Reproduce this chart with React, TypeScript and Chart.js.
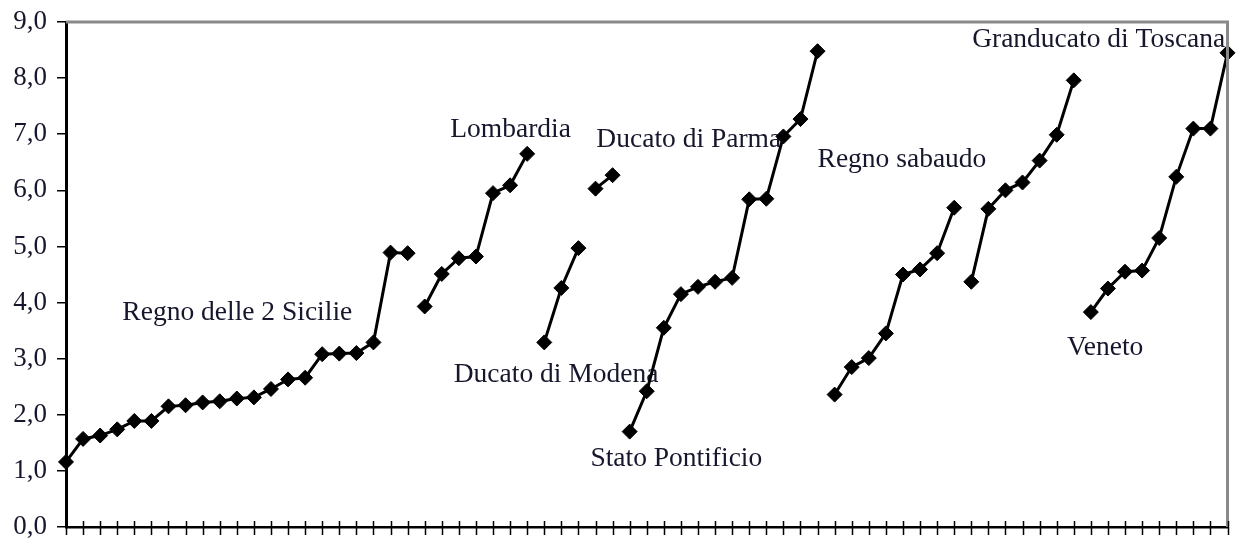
import React, { useEffect, useRef } from 'react';
import { Chart, registerables } from 'chart.js';

Chart.register(...registerables);

// 69 provinces on the x axis (no text labels)
const categories: string[] = Array.from({ length: 69 }, (_, i) => String(i + 1));

const yTicks = [0, 1, 2, 3, 4, 5, 6, 7, 8, 9];

const regionNames = [
  'Regno delle 2 Sicilie',
  'Lombardia',
  'Ducato di Modena',
  'Ducato di Parma',
  'Stato Pontificio',
  'Regno sabaudo',
  'Granducato di Toscana',
  'Veneto',
];
const regionStarts = [0, 21, 28, 31, 33, 45, 53, 60];

const sicilie = [1.16, 1.57, 1.63, 1.74, 1.89, 1.89, 2.15, 2.17, 2.22, 2.24, 2.29, 2.31, 2.46, 2.63, 2.66, 3.08, 3.09, 3.10, 3.29, 4.89, 4.88];
const lombardia = [3.93, 4.51, 4.79, 4.82, 5.95, 6.09, 6.65];
const modena = [3.29, 4.26, 4.97];
const parma = [6.03, 6.27];
const pontificio = [1.70, 2.42, 3.55, 4.15, 4.28, 4.37, 4.44, 5.84, 5.85, 6.96, 7.27, 8.48];
const sabaudo = [2.36, 2.85, 3.01, 3.45, 4.50, 4.59, 4.88, 5.69];
const toscana = [4.37, 5.67, 6.00, 6.14, 6.53, 6.99, 7.96];
const veneto = [3.83, 4.25, 4.55, 4.57, 5.15, 6.24, 7.10, 7.10, 8.45];

const regionValues = [sicilie, lombardia, modena, parma, pontificio, sabaudo, toscana, veneto];

// annotation text anchors (left edge, in category-index units / y value)
const labelTexts = [
  'Regno delle 2 Sicilie',
  'Lombardia',
  'Ducato di Parma',
  'Ducato di Modena',
  'Stato Pontificio',
  'Regno sabaudo',
  'Granducato di Toscana',
  'Veneto',
];
const labelX = [3.3, 22.5, 31.05, 22.7, 30.7, 44.0, 53.05, 58.6];
const labelY = [3.81, 7.08, 6.90, 2.71, 1.21, 6.54, 8.68, 3.19];

const SERIF = "'Liberation Serif', 'Times New Roman', serif";
const TEXT_COLOR = '#16162c';

const labelPlugin = {
  id: 'regionLabels',
  beforeDatasetsDraw(chart: any) {
    const ctx = chart.ctx;
    const xs = chart.scales.x;
    const ys = chart.scales.y;
    ctx.save();
    ctx.font = `27.5px ${SERIF}`;
    ctx.fillStyle = TEXT_COLOR;
    ctx.textAlign = 'left';
    ctx.textBaseline = 'middle';
    labelTexts.forEach((t, i) => {
      ctx.fillText(t, xs.getPixelForValue(labelX[i]), ys.getPixelForValue(labelY[i]));
    });
    ctx.restore();
  },
};

const framePlugin = {
  id: 'frame',
  afterDraw(chart: any) {
    const ctx = chart.ctx;
    const a = chart.chartArea;
    const xs = chart.scales.x;
    ctx.save();
    // gray top and right frame
    ctx.strokeStyle = '#8a8a8a';
    ctx.lineWidth = 3;
    ctx.beginPath();
    ctx.moveTo(a.left, a.top);
    ctx.lineTo(a.right, a.top);
    ctx.lineTo(a.right, a.bottom);
    ctx.stroke();
    // x tick marks crossing the axis
    ctx.strokeStyle = '#000';
    ctx.lineWidth = 1.5;
    ctx.beginPath();
    for (let i = 0; i < xs.ticks.length; i++) {
      const px = Math.round(xs.getPixelForTick(i)) + 0.5;
      ctx.moveTo(px, a.bottom - 6);
      ctx.lineTo(px, a.bottom + 8);
    }
    ctx.stroke();
    ctx.restore();
  },
};

export default function App() {
  const ref = useRef<HTMLCanvasElement | null>(null);

  useEffect(() => {
    document.body.style.margin = '0';
    if (!ref.current) return;
    const datasets = regionValues.map((vals, r) => {
      const data: (number | null)[] = categories.map(() => null);
      vals.forEach((v, k) => {
        data[regionStarts[r] + k] = v;
      });
      return {
        label: regionNames[r],
        data,
        borderColor: '#000',
        backgroundColor: '#000',
        borderWidth: 3,
        pointStyle: 'rectRot' as const,
        pointRadius: 7.5,
        pointBorderWidth: 1,
        pointBackgroundColor: '#000',
        pointBorderColor: '#000',
        spanGaps: false,
        tension: 0,
      };
    });

    const chart = new Chart(ref.current, {
      type: 'line',
      data: { labels: categories, datasets },
      options: {
        animation: false,
        responsive: true,
        maintainAspectRatio: false,
        layout: { padding: { top: 22, right: 5, left: 0, bottom: 0 } },
        plugins: {
          legend: { display: false },
          tooltip: { enabled: false },
          title: { display: false },
        },
        scales: {
          x: {
            type: 'category',
            offset: false,
            grid: { display: false },
            border: { display: true, color: '#000', width: 2.5 },
            ticks: { display: false },
            afterFit: (s: any) => {
              s.height = 14;
              s.paddingLeft = 0;
              s.paddingRight = 0;
            },
          },
          y: {
            min: 0,
            max: 9,
            afterBuildTicks: (s: any) => {
              s.ticks = yTicks.map((v) => ({ value: v }));
            },
            grid: {
              drawOnChartArea: false,
              drawTicks: true,
              tickLength: 9,
              color: '#000',
              lineWidth: 1.5,
            },
            border: { display: true, color: '#000', width: 3 },
            ticks: {
              padding: 10,
              color: TEXT_COLOR,
              font: { family: SERIF, size: 27 },
              callback: (v: any) => Number(v).toFixed(1).replace('.', ','),
            },
            afterFit: (s: any) => {
              s.width = 66;
              s.paddingTop = 0;
              s.paddingBottom = 0;
            },
          },
        },
      },
      plugins: [labelPlugin, framePlugin],
    });
    return () => chart.destroy();
  }, []);

  return (
    <div style={{ width: '1236px', height: '541px', position: 'relative' }}>
      <canvas ref={ref} />
    </div>
  );
}
